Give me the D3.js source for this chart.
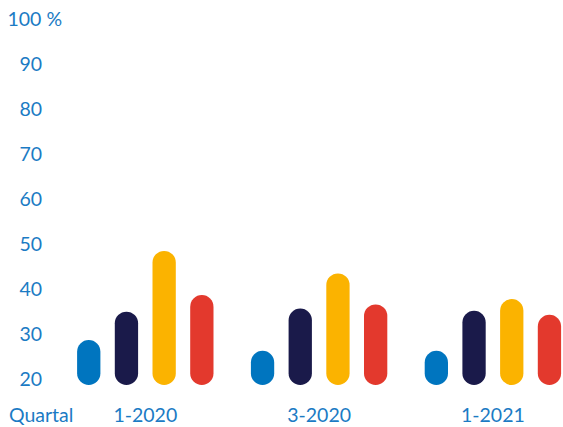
<!DOCTYPE html>
<html>
<head>
<meta charset="utf-8">
<script src="https://cdn.jsdelivr.net/npm/d3@7"></script>
<style>
  html, body { margin: 0; padding: 0; background: #fff; }
  svg { display: block; }
  text { font-family: Lato, "Open Sans", sans-serif; fill: #1b7bc4; }
</style>
</head>
<body>
<svg id="chart" width="563" height="427"></svg>
<script>
const quarters = ["1-2020", "3-2020", "1-2021"];
const seriesKeys = ["s1", "s2", "s3", "s4"];
const s1 = [30.0, 27.6, 27.6];
const s2 = [36.3, 37.0, 36.5];
const s3 = [49.8, 44.8, 39.1];
const s4 = [40.0, 37.9, 35.6];
const seriesColors = ["#0075bf", "#1a1a4a", "#fbb300", "#e3392d"];
const yTicks = [20, 30, 40, 50, 60, 70, 80, 90, 100];
const xAxisTitle = "Quartal";

const seriesValues = [s1, s2, s3, s4];
const data = quarters.map((q, i) => ({
  quarter: q,
  values: seriesKeys.map((k, j) => ({ key: k, value: seriesValues[j][i], color: seriesColors[j] }))
}));

const svg = d3.select("#chart");

const y = d3.scaleLinear().domain([20, 100]).range([385, 25]);

const x0 = d3.scaleBand().domain(quarters).range([58.4, 58.4 + 3 * 173.8]).padding(0);
const x1 = d3.scaleBand().domain(seriesKeys)
  .range([-75.4, 75.4]).paddingInner(0.382).paddingOuter(0.191);

// Y axis
const yAxis = svg.append("g")
  .attr("transform", "translate(42,0)")
  .call(d3.axisLeft(y).tickValues(yTicks).tickSize(0).tickPadding(0));
yAxis.select(".domain").remove();
yAxis.selectAll("text")
  .attr("dy", "0")
  .style("font-size", "19.5px")
  .style("fill", "#1b7bc4");
yAxis.selectAll(".tick").filter(d => d === 100).select("text")
  .text("100 %")
  .attr("text-anchor", "start")
  .attr("x", -34.5);

// X axis
const xAxis = svg.append("g")
  .attr("transform", "translate(0,422)")
  .call(d3.axisBottom(x0.copy().range([58.4 - 86.9 + 86.9, 58.4 + 3 * 173.8])).tickSize(0).tickPadding(0));
xAxis.select(".domain").remove();
xAxis.selectAll("text")
  .attr("dy", "0")
  .attr("y", 0)
  .style("font-size", "19.5px")
  .style("fill", "#1b7bc4");

svg.append("text")
  .attr("x", 9)
  .attr("y", 422)
  .style("font-size", "19.5px")
  .text(xAxisTitle);

// Bars
const groups = svg.append("g").selectAll("g")
  .data(data)
  .join("g")
  .attr("transform", d => `translate(${x0(d.quarter) + x0.bandwidth() / 2},0)`);

groups.selectAll("rect")
  .data(d => d.values)
  .join("rect")
  .attr("x", d => x1(d.key))
  .attr("width", x1.bandwidth())
  .attr("y", d => y(d.value))
  .attr("height", d => y(20) - y(d.value))
  .attr("rx", x1.bandwidth() / 2)
  .attr("ry", x1.bandwidth() / 2)
  .attr("fill", d => d.color);
</script>
</body>
</html>
